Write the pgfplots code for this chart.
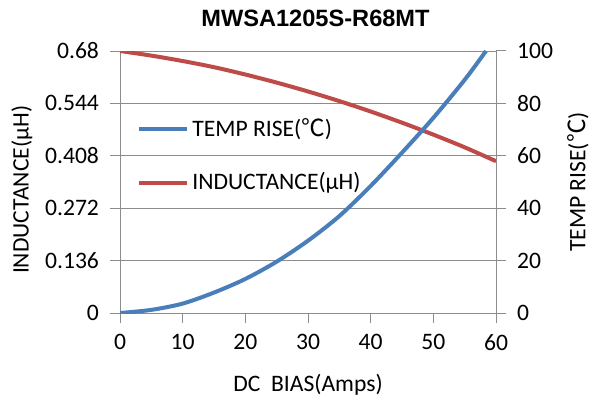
\documentclass[border=0pt]{standalone}
\usepackage{pgfplots}
\pgfplotsset{compat=1.18}
\usepackage{fontspec}
\setmainfont{Carlito}
\newfontfamily\titlefont{Liberation Sans}
\newfontfamily\cjk{Noto Sans CJK SC}

\definecolor{tempblue}{HTML}{4A7EBB}
\definecolor{indred}{HTML}{BE4B48}
\definecolor{gridgray}{HTML}{8C8C8C}

\pgfplotsset{
  twin/.style={
    scale only axis, width=188pt, height=131pt,
    xmin=0, xmax=60,
    font=\fontsize{11.8}{14}\selectfont,
    /pgf/number format/assume math mode=true,
    axis line style={gridgray, line width=0.5pt},
    tick style={gridgray, line width=0.5pt},
    major tick length=5pt,
    tick align=outside,
  }
}

\begin{document}
\begin{tikzpicture}
\begin{axis}[twin, name=ax,
    ymin=0, ymax=0.68,
    xtick={0,10,...,60},
    ytick={0,0.136,0.272,0.408,0.544,0.68},
    yticklabels={0,0.136,0.272,0.408,0.544,0.68},
    axis y line*=left, axis x line*=bottom,
    ymajorgrids, major grid style={gridgray, line width=0.5pt},
    xticklabel style={yshift=-2pt},
    yticklabel style={xshift=-2pt},
    xlabel={DC\ \ BIAS(Amps)},
    xlabel style={at={(axis description cs:0.5,-0.275)}, anchor=center},
    ylabel={INDUCTANCE(μH)},
    ylabel style={at={(axis description cs:-0.261,0.47)}, anchor=center},
    legend style={at={(axis description cs:0.045,0.6)}, anchor=west,
        draw=none, fill=none, inner sep=0pt, row sep=13.5pt,
        nodes={inner sep=1.5pt}, cells={anchor=west},
        font=\fontsize{11.8}{14}\selectfont},
    legend image code/.code={\draw[#1] (0pt,0pt) -- (24pt,0pt);},
  ]
  \addlegendimage{tempblue, line width=2pt}
  \addlegendentry{TEMP RISE({\cjk ℃})}
  \addplot[indred, line width=2pt, smooth] coordinates {
    (0,0.680) (5,0.668) (10,0.654) (15,0.638) (20,0.619) (25,0.598)
    (30,0.575) (35,0.550) (40,0.523) (45,0.494) (50,0.463) (55,0.430) (60,0.394)
  };
  \addlegendentry{INDUCTANCE(μH)}
\end{axis}
\begin{axis}[twin,
    ymin=0, ymax=100,
    ytick={0,20,...,100},
    axis y line*=right, axis x line=none,
    yticklabel style={xshift=2pt},
    ylabel={TEMP RISE({\cjk ℃})},
    ylabel style={at={(axis description cs:1.218,0.5)}, anchor=center},
  ]
  \addplot[tempblue, line width=2pt, smooth] coordinates {
    (0,0) (5,1.2) (10,3.6) (15,7.8) (20,13) (25,19.6) (30,27.6) (35,37)
    (40,48.5) (45,61.2) (50,74.5) (55,89) (58.4,100)
  };
\end{axis}
\node[font=\titlefont\bfseries\fontsize{11.8}{14}\selectfont] at ([xshift=3.75pt,yshift=16.5pt]ax.north) {MWSA1205S-R68MT};
\pgfresetboundingbox
\path ([xshift=-60pt,yshift=-44.5pt]ax.south west) rectangle ([xshift=49.5pt,yshift=25.5pt]ax.north east);
\end{tikzpicture}
\end{document}
